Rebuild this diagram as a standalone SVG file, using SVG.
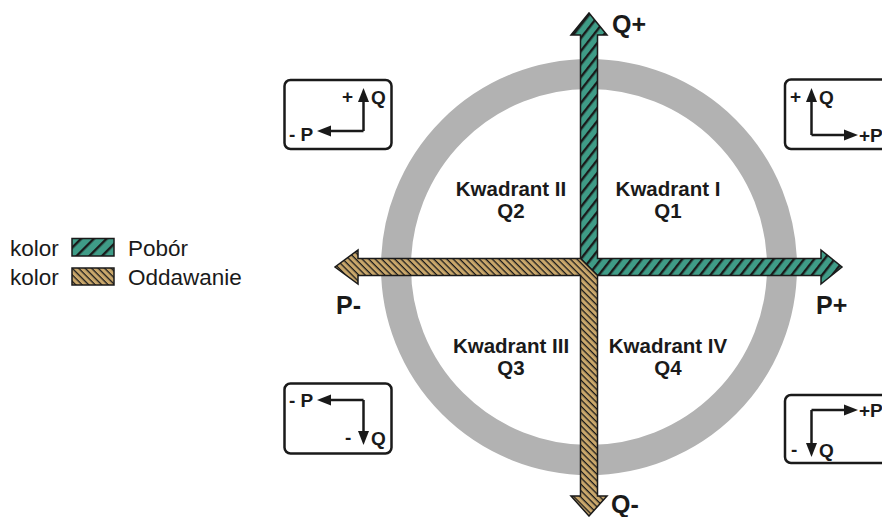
<svg xmlns="http://www.w3.org/2000/svg" width="882" height="517" viewBox="0 0 882 517">
<style>
.t{font-family:"Liberation Sans",Arial,sans-serif;fill:#1a1a1a;font-size:22.5px}
.ax{font-family:"Liberation Sans",Arial,sans-serif;font-weight:bold;font-size:25px;fill:#1a1a1a}
.q{font-family:"Liberation Sans",Arial,sans-serif;font-weight:bold;font-size:20.5px;fill:#1a1a1a;text-anchor:middle}
.box{fill:#fff;stroke:#1a1a1a;stroke-width:2.5}
.ln{fill:none;stroke:#1a1a1a;stroke-width:2.5}
.hd{fill:#1a1a1a}
.sm{font-family:"Liberation Sans",Arial,sans-serif;font-weight:bold;font-size:19px;fill:#1a1a1a}
</style>
<defs>
<pattern id="pg" patternUnits="userSpaceOnUse" width="8" height="8" patternTransform="rotate(-52)">
<rect width="8" height="8" fill="#3f9c87"/>
<rect y="0" width="8" height="2.4" fill="#1a1a1a"/>
</pattern>
<pattern id="pt" patternUnits="userSpaceOnUse" width="4.6" height="4.6" patternTransform="rotate(45)">
<rect width="4.6" height="4.6" fill="#c9a76b"/>
<rect y="0" width="4.6" height="1.3" fill="#1a1a1a"/>
</pattern>
<pattern id="pgl" patternUnits="userSpaceOnUse" width="9" height="9" patternTransform="rotate(-45)">
<rect width="9" height="9" fill="#3f9c87"/>
<rect y="0" width="9" height="2.4" fill="#1a1a1a"/>
</pattern>
</defs>

<g id="ring">
<circle cx="589" cy="267" r="193" fill="none" stroke="#b2b2b2" stroke-width="30"/>
</g>

<g id="connectors">
<polygon id="pobor" points="580.5,35 571,35 589,13 607,35 597.5,35 597.5,258.5 821,258.5 821,250 842,267 821,284 821,275.5 597.5,275.5 580.5,258.5" fill="url(#pg)" stroke="#1a1a1a" stroke-width="1.5" stroke-linejoin="miter"/>
<polygon id="oddawanie" points="580.5,258.5 358,258.5 358,250 335,267 358,284 358,275.5 580.5,275.5 580.5,496 571,496 589,516 607,496 597.5,496 597.5,275.5" fill="url(#pt)" stroke="#1a1a1a" stroke-width="1.5" stroke-linejoin="miter"/>
</g>

<g id="axis-labels">
<text class="ax" x="612" y="33">Q+</text>
<text class="ax" x="611" y="513">Q-</text>
<text class="ax" x="336" y="314">P-</text>
<text class="ax" x="816" y="314">P+</text>
</g>

<g id="q1"><text class="q" x="668" y="196">Kwadrant I</text><text class="q" x="668" y="218">Q1</text></g>
<g id="q2"><text class="q" x="511" y="196">Kwadrant II</text><text class="q" x="511" y="218">Q2</text></g>
<g id="q3"><text class="q" x="511" y="353">Kwadrant III</text><text class="q" x="511" y="375">Q3</text></g>
<g id="q4"><text class="q" x="668" y="353">Kwadrant IV</text><text class="q" x="668" y="375">Q4</text></g>

<g id="legend">
<text class="t" x="10" y="256">kolor</text>
<rect x="72" y="238.5" width="42" height="17.5" fill="url(#pgl)" stroke="#1a1a1a" stroke-width="1.5"/>
<text class="t" x="128" y="256">Pobór</text>
<text class="t" x="10" y="285">kolor</text>
<rect x="72" y="268" width="42" height="17" fill="url(#pt)" stroke="#1a1a1a" stroke-width="1.5"/>
<text class="t" x="128" y="285">Oddawanie</text>
</g>

<g id="box-q2">
<rect class="box" x="284.5" y="80" width="107" height="69" rx="6"/>
<polyline class="ln" points="363.5,131 363.5,98"/>
<polygon class="hd" points="358,102 363.5,88 369,102"/>
<polyline class="ln" points="363.5,131 328,131"/>
<polygon class="hd" points="331,125.5 317,131 331,136.5"/>
<text class="sm" x="342" y="103">+</text>
<text class="sm" x="371" y="104">Q</text>
<text class="sm" x="289" y="141">- P</text>
</g>

<g id="box-q1">
<rect class="box" x="785" y="79.5" width="110" height="69.5" rx="6"/>
<polyline class="ln" points="811.5,135 811.5,98"/>
<polygon class="hd" points="806,102 811.5,88 817,102"/>
<polyline class="ln" points="811.5,135 847,135"/>
<polygon class="hd" points="844,129.5 858,135 844,140.5"/>
<text class="sm" x="790" y="103">+</text>
<text class="sm" x="819" y="104">Q</text>
<text class="sm" x="859" y="142">+P</text>
</g>

<g id="box-q3">
<rect class="box" x="284.5" y="383.5" width="107" height="70" rx="6"/>
<polyline class="ln" points="363.5,400 328,400"/>
<polygon class="hd" points="331,394.5 317,400 331,405.5"/>
<polyline class="ln" points="363.5,400 363.5,435"/>
<polygon class="hd" points="358,431 363.5,445 369,431"/>
<text class="sm" x="289" y="407">- P</text>
<text class="sm" x="345" y="444">-</text>
<text class="sm" x="371" y="445">Q</text>
</g>

<g id="box-q4">
<rect class="box" x="785" y="395" width="110" height="68" rx="6"/>
<polyline class="ln" points="811.5,410 847,410"/>
<polygon class="hd" points="844,404.5 858,410 844,415.5"/>
<polyline class="ln" points="811.5,410 811.5,447"/>
<polygon class="hd" points="806,443 811.5,457 817,443"/>
<text class="sm" x="859" y="417">+P</text>
<text class="sm" x="791" y="456">-</text>
<text class="sm" x="819" y="457">Q</text>
</g>
</svg>
